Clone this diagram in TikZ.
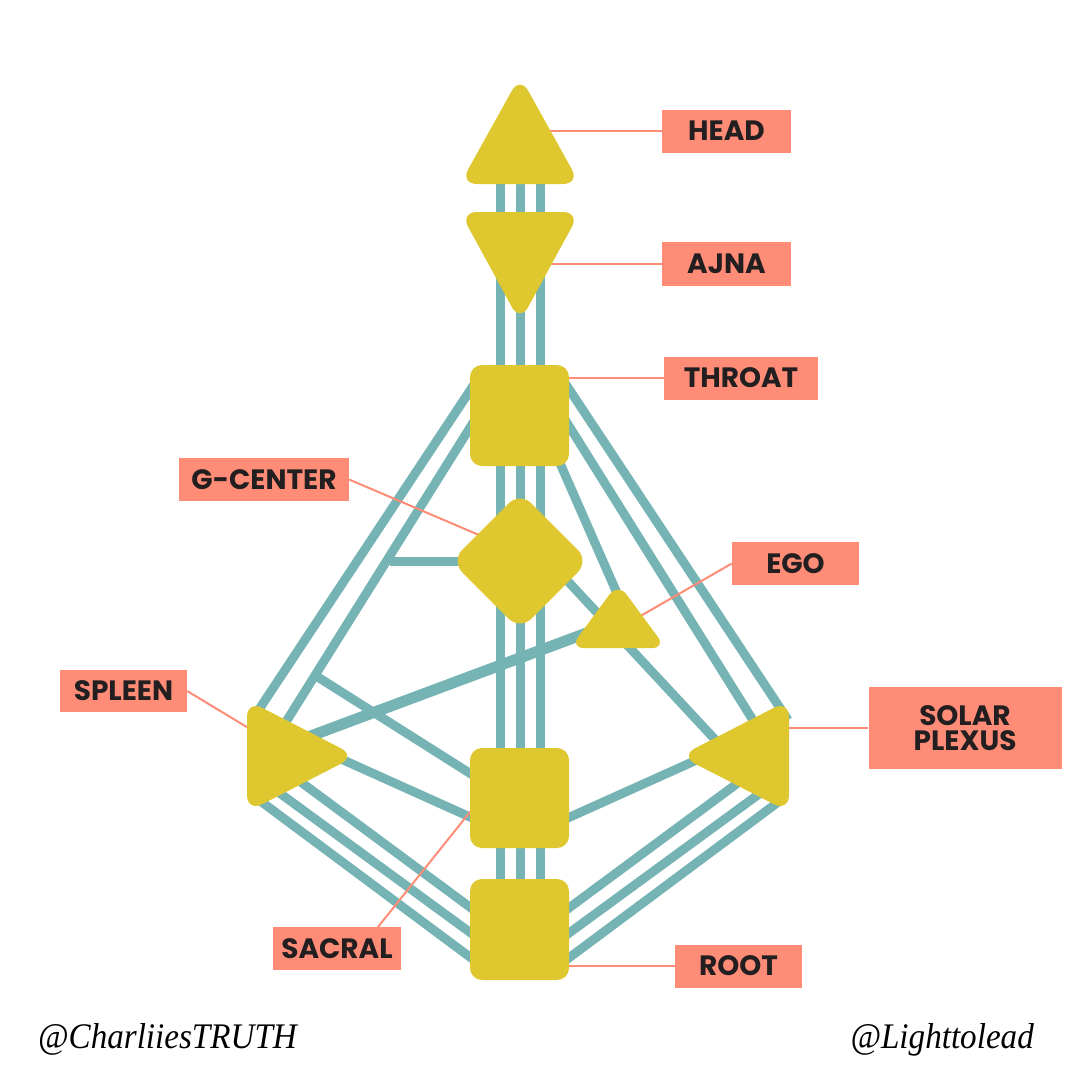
\documentclass[tikz,border=0pt]{standalone}
\usepackage{fontspec}
\newfontfamily\lblfont{Poppins}
\newfontfamily\sigfont{Liberation Serif}[FakeStretch=0.92]
\usetikzlibrary{shapes.geometric}
\definecolor{chteal}{HTML}{76B3B4}
\definecolor{cyel}{HTML}{DFC82F}
\definecolor{csal}{HTML}{FF8C77}
\definecolor{ctxt}{HTML}{231F20}
\begin{document}
\begin{tikzpicture}[x=1pt,y=-1pt,
  channel/.style={draw=chteal, line width=9pt},
  thickchannel/.style={draw=chteal, line width=11pt},
  leader/.style={draw=csal, line width=2pt},
  centre/.style={fill=cyel, rounded corners=17pt},
  sqcentre/.style={fill=cyel, rounded corners=12pt, minimum width=99pt, minimum height=101pt, inner sep=0pt},
  lbl/.style={fill=csal, text=ctxt, font=\lblfont\bfseries\fontsize{28}{25}\selectfont, inner sep=0pt, align=center, minimum height=43pt},
  sig/.style={font=\sigfont\itshape\fontsize{36}{40}\selectfont, text=black, inner sep=0pt}
]
\fill[white] (0,0) rectangle (1080,1080);
\useasboundingbox (0,0) rectangle (1080,1080);

% ---------- channel end points ----------
\coordinate (v1a) at (500,180); \coordinate (v1b) at (500,930);
\coordinate (v2a) at (520,180); \coordinate (v2b) at (520,930);
\coordinate (v3a) at (540,180); \coordinate (v3b) at (540,930);
\coordinate (tsoA) at (477,380); \coordinate (tsoB) at (252,720);
\coordinate (tsiA) at (476,418); \coordinate (tsiB) at (284,725);
\coordinate (gsA) at (390,561);  \coordinate (gsB) at (520,561);
\coordinate (teA) at (552,445);  \coordinate (teB) at (620,600);
\coordinate (tpoA) at (563,380); \coordinate (tpoB) at (788,720);
\coordinate (tpiA) at (564,418); \coordinate (tpiB) at (756,725);
\coordinate (gpA) at (549,561);  \coordinate (gpB) at (722,747);
\coordinate (esA) at (600,628);  \coordinate (esB) at (300,740);
\coordinate (lsA) at (313,674);  \coordinate (lsB) at (490,786);
\coordinate (ssA) at (330,754);  \coordinate (ssB) at (490,826);
\coordinate (sr1A) at (290,774); \coordinate (sr1B) at (490,922);
\coordinate (sr2A) at (270,786); \coordinate (sr2B) at (490,947);
\coordinate (sr3A) at (255,797); \coordinate (sr3B) at (490,972);
\coordinate (pr1A) at (750,774); \coordinate (pr1B) at (550,922);
\coordinate (pr2A) at (770,786); \coordinate (pr2B) at (550,947);
\coordinate (pr3A) at (785,797); \coordinate (pr3B) at (550,972);
\coordinate (psA) at (710,754);  \coordinate (psB) at (550,826);

% ---------- channels ----------
\draw[channel] (v1a) -- (v1b);
\draw[channel] (v2a) -- (v2b);
\draw[channel] (v3a) -- (v3b);
\draw[channel] (tsoA) -- (tsoB);
\draw[channel] (tsiA) -- (tsiB);
\draw[channel] (gsA) -- (gsB);
\draw[channel] (teA) -- (teB);
\draw[channel] (tpoA) -- (tpoB);
\draw[channel] (tpiA) -- (tpiB);
\draw[channel] (gpA) -- (gpB);
\draw[channel] (lsA) -- (lsB);
\draw[channel] (ssA) -- (ssB);
\draw[channel] (sr1A) -- (sr1B);
\draw[channel] (sr2A) -- (sr2B);
\draw[channel] (sr3A) -- (sr3B);
\draw[channel] (pr1A) -- (pr1B);
\draw[channel] (pr2A) -- (pr2B);
\draw[channel] (pr3A) -- (pr3B);
\draw[channel] (psA) -- (psB);
\draw[thickchannel] (esA) -- (esB);

% ---------- label boxes ----------
\node[lbl, minimum width=129pt] (headlbl) at (726.5,131) {HEAD};
\node[lbl, minimum width=129pt, minimum height=44pt] (ajnalbl) at (726.5,264) {AJNA};
\node[lbl, minimum width=154pt] (throatlbl) at (741,378) {THROAT};
\node[lbl, minimum width=170pt] (glbl) at (264,479.5) {G-CENTER};
\node[lbl, minimum width=127pt] (egolbl) at (795.5,563.5) {EGO};
\node[lbl, minimum width=127pt, minimum height=42pt] (spleenlbl) at (123.5,691) {SPLEEN};
\node[lbl, minimum width=193pt, minimum height=82pt] (splbl) at (965,728) {SOLAR\\PLEXUS};
\node[lbl, minimum width=128pt] (sacrallbl) at (337,948.5) {SACRAL};
\node[lbl, minimum width=127pt] (rootlbl) at (738.5,966) {ROOT};

% ---------- leader lines ----------
\coordinate (hdL) at (540,131);
\coordinate (ajL) at (540,264);
\coordinate (thL) at (560,378);
\coordinate (gL) at (500,544);
\coordinate (egL) at (630,622);
\coordinate (spnL) at (270,741);
\coordinate (spL) at (770,728);
\coordinate (sacL) at (490,787);
\coordinate (sacT) at (378,927);
\coordinate (rtL) at (560,966);
\draw[leader] (hdL) -- (headlbl.west);
\draw[leader] (ajL) -- (ajnalbl.west);
\draw[leader] (thL) -- (throatlbl.west);
\draw[leader] (glbl.east) -- (gL);
\draw[leader] (egolbl.west) -- (egL);
\draw[leader] (spnL) -- (spleenlbl.east);
\draw[leader] (spL) -- (splbl.west);
\draw[leader] (sacT) -- (sacL);
\draw[leader] (rtL) -- (rootlbl.west);

% ---------- centres ----------
\fill[centre] (520,76) -- (580,184) -- (460,184) -- cycle;   % head
\coordinate (head) at (520,150);
\fill[centre] (460,212) -- (580,212) -- (520,322) -- cycle;  % ajna
\coordinate (ajna) at (520,245);
\node[sqcentre] (throat) at (519.5,415.5) {};
\fill[centre, rounded corners=16pt] (520,492) -- (589,561) -- (520,630) -- (451,561) -- cycle; % G
\coordinate (gcentre) at (520,561);
\fill[centre, rounded corners=14pt] (618,583) -- (666,648) -- (570,648) -- cycle; % ego
\coordinate (ego) at (618,628);
\fill[centre] (247,700) -- (356,756) -- (247,812) -- cycle; % spleen
\coordinate (spleen) at (283,756);
\fill[centre] (789,700) -- (680,756) -- (789,812) -- cycle; % solar plexus
\coordinate (solar) at (753,756);
\node[sqcentre, minimum height=100pt] (sacral) at (519.5,798) {};
\node[sqcentre] (root) at (519.5,929.5) {};

% ---------- signatures ----------
\node[sig, anchor=base west] (sigleft) at (38,1048) {@CharliiesTRUTH};
\node[sig, anchor=base east] (sigright) at (1034,1048) {@Lighttolead};
\end{tikzpicture}
\end{document}
